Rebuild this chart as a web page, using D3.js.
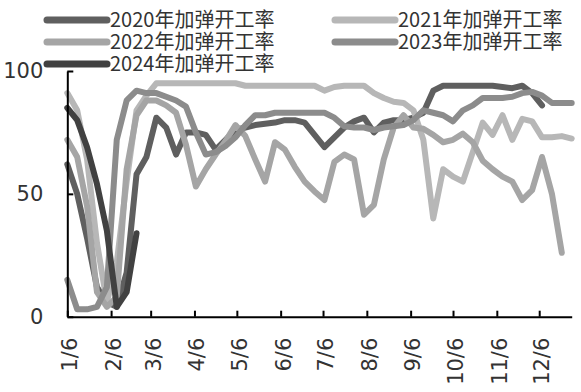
<!DOCTYPE html>
<html>
<head>
<meta charset="utf-8">
<script src="https://cdn.jsdelivr.net/npm/d3@7"></script>
<style>
body{margin:0;background:#fff;}
svg{display:block;}
</style>
</head>
<body>
<svg id="chart" width="581" height="392"></svg>
<script>
// ---------- data ----------
const seriesNames = ["2020年加弹开工率","2021年加弹开工率","2022年加弹开工率","2023年加弹开工率","2024年加弹开工率"];
const firstWeek = "2023-01-06";
const lastWeek = "2023-12-29";
const xTickLabels = ["1/6","2/6","3/6","4/6","5/6","6/6","7/6","8/6","9/6","10/6","11/6","12/6"];
const yTickValues = [0, 50, 100];

const s2020 = [62,50,32,12,6,4,18,58,65,81,77,66,75,75,74,68,72,76,77,78,78.5,79,80,80,79,74,69,73,77,79.5,81,75,79,80,80,81,83,92,94,94,94,94,94,94,93.5,93,94,91,86];
const s2021 = [91,84,64,30,6,22,55,84,90,95,95,95,95,95,95,95,95,95,94,94,94,94,94,94,94,94,92,93.5,94,94,94,91,89,87.5,87,84,72,40,60,57,55,67,79,74,82,72,80.5,79.5,73,73,73.5,72.5];
const s2022 = [72,65,45,10,4,8,60,82,88,88,86,83,70,53,60,66,71.5,78,73.5,64,55,71,68,61,55,51,47.5,63,66,64,41.5,45.5,64,77,82,77,76.5,74,71,72,74.5,71,63.5,60,57,55,47.5,51.5,65,50,26];
const s2023 = [15,3,3,4,12,72,88,92,91,91,89.5,88,85.5,75,66,67,69.5,73,78,82,82,83,83,83,83,83,83,81,77.5,77,77,76,77,77.5,78,80,84,83,82,79.5,84,86,89,89,89,89.5,91,91.5,90,87,87,87];
const s2024 = [85,80,69,54,35,4,10,34];

const seriesValues = [s2020, s2021, s2022, s2023, s2024];
const seriesColors = ["#5f5f5f","#b7b7b7","#a5a5a5","#8c8c8c","#414141"];

// ---------- setup ----------
const svg = d3.select("#chart");
const parse = d3.timeParse("%Y-%m-%d");
const d0 = parse(firstWeek), d1 = parse(lastWeek);
const weekDate = i => d3.timeDay.offset(d0, 7 * i);

const x = d3.scaleTime().domain([d0, d1]).range([67.3, 571.7]);
const y = d3.scaleLinear().domain([0, 100]).range([316.7, 71]);

const tickDates = xTickLabels.map(s => {
  const [m, d] = s.split("/").map(Number);
  return new Date(2023, m - 1, d);
});

// ---------- lines ----------
const line = d3.line()
  .x((v, i) => x(weekDate(i)))
  .y(v => y(v));

svg.append("g").selectAll("path")
  .data(seriesValues)
  .join("path")
  .attr("d", d => line(d))
  .attr("fill", "none")
  .attr("stroke", (d, i) => seriesColors[i])
  .attr("stroke-width", 6)
  .attr("stroke-linejoin", "round")
  .attr("stroke-linecap", "round");

// ---------- axes ----------
const xAxis = d3.axisBottom(x)
  .tickValues(tickDates)
  .tickFormat((d, i) => xTickLabels[i])
  .tickSizeInner(-6)
  .tickSizeOuter(0);

const gx = svg.append("g")
  .attr("transform", `translate(0,${y(0)})`)
  .call(xAxis);
gx.select(".domain").attr("stroke", "#000").attr("stroke-width", 2);
gx.selectAll(".tick line").attr("stroke", "#000").attr("stroke-width", 2);
gx.selectAll(".tick text")
  .attr("transform", "rotate(-90)")
  .attr("text-anchor", "end")
  .attr("x", -21)
  .attr("y", 2)
  .attr("dy", "0.35em")
  .attr("fill", "#333")
  .style("font-family", "'DejaVu Sans', sans-serif")
  .style("font-size", "21px");

const yAxis = d3.axisLeft(y)
  .tickValues(yTickValues)
  .tickSizeInner(-6)
  .tickSizeOuter(0)
  .tickPadding(24);
const gy = svg.append("g")
  .attr("transform", `translate(${x(d0)},0)`)
  .call(yAxis);
gy.select(".domain").attr("stroke", "#000").attr("stroke-width", 2);
gy.selectAll(".tick line").attr("stroke", "#000").attr("stroke-width", 2);
gy.selectAll(".tick text")
  .attr("fill", "#333")
  .style("font-family", "'DejaVu Sans', sans-serif")
  .style("font-size", "21px");

// ---------- legend ----------
const legendPos = [[47, 20], [335, 20], [47, 42], [335, 42], [47, 64]];
const lg = svg.append("g").selectAll("g")
  .data(seriesNames)
  .join("g")
  .attr("transform", (d, i) => `translate(${legendPos[i][0]},${legendPos[i][1]})`);
lg.append("line")
  .attr("x1", 0).attr("x2", 60)
  .attr("y1", 0).attr("y2", 0)
  .attr("stroke", (d, i) => seriesColors[i])
  .attr("stroke-width", 7)
  .attr("stroke-linecap", "round");
lg.append("text")
  .attr("x", 63)
  .attr("y", 0)
  .attr("dy", "0.36em")
  .attr("fill", "#333")
  .style("font-family", "'Noto Sans CJK SC', sans-serif")
  .style("font-size", "20px")
  .text(d => d);
</script>
</body>
</html>
